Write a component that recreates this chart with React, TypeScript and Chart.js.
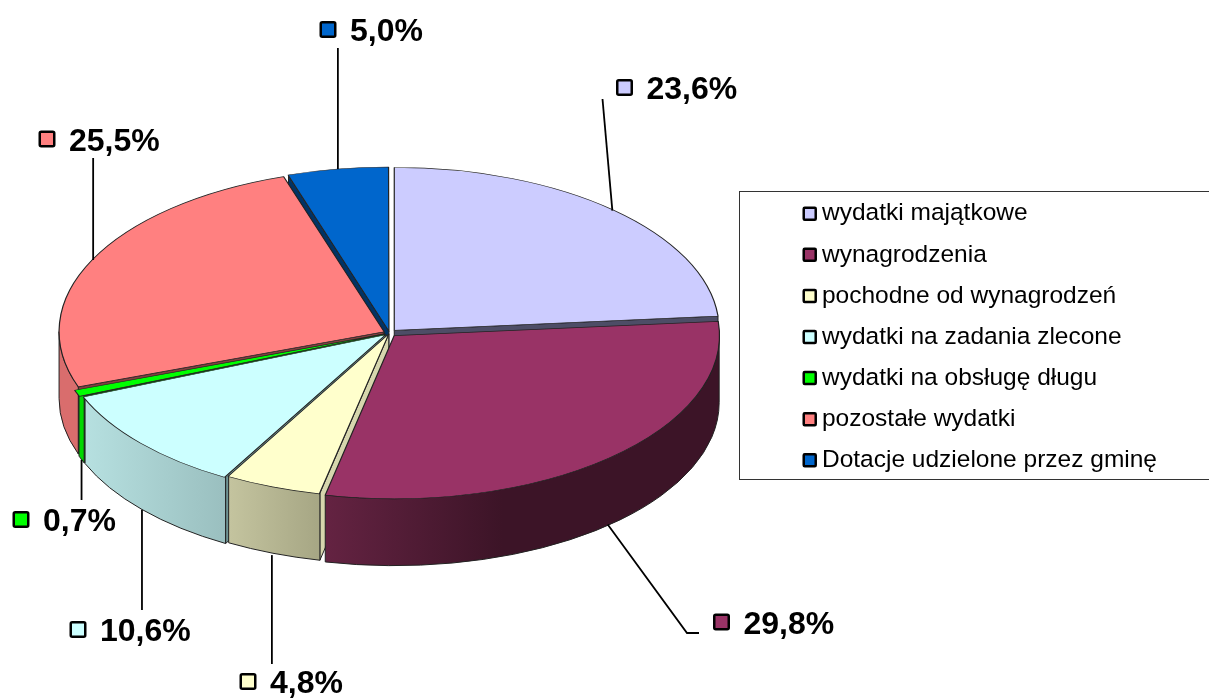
import React, { useEffect, useRef } from "react";
import { Chart, registerables } from "chart.js";

Chart.register(...registerables);

const categories = [
  "wydatki majątkowe",
  "wynagrodzenia",
  "pochodne od wynagrodzeń",
  "wydatki na zadania zlecone",
  "wydatki na obsługę długu",
  "pozostałe wydatki",
  "Dotacje udzielone przez gminę",
];
const shares = [23.6, 29.8, 4.8, 10.6, 0.7, 25.5, 5.0];
const valueLabels = ["23,6%", "29,8%", "4,8%", "10,6%", "0,7%", "25,5%", "5,0%"];
const topColors = ["#CCCCFF", "#993366", "#FFFFCC", "#CCFFFF", "#00FF00", "#FF8080", "#0066CC"];
const wallLeft = ["#7a7a99", "#642342", "#c4c49f", "#b6e0e0", "#00d800", "#d96d6d", "#003d7a"];
const wallRight = ["#7a7a99", "#3c1427", "#a6a684", "#9abfbf", "#00d800", "#d96d6d", "#003d7a"];
const faceColors = ["#4d4d66", "#4d1a33", "#d6d6ad", "#6f9494", "#009000", "#803f3f", "#003366"];
const paintOrder = [0, 6, 5, 4, 3, 2, 1];
// Chart.js translates an arc by offset / 4
const explode = [28, 28, 8, 20, 20, 24, 14];

// Layout of the drawing (not data)
const CX = 389.5;
const CY = 333;
const RX = 325;
const RY = 163;
const DEPTH = 67;
// leader line waypoints (null x = straight up or down) and label block position for each slice
const leaders: (number | null)[][][] = [
  [[602.5, 99]],
  [[687, 633], [699, 633]],
  [[null, 664]],
  [[null, 610]],
  [[null, 500]],
  [[null, 158]],
  [[null, 48]],
];
const labelBoxes: number[][] = [
  [624.5, 87.5],
  [721.5, 622],
  [248, 681.5],
  [78, 629.5],
  [21, 519.5],
  [47, 139],
  [328, 29.5],
];

function slicePath(ctx: CanvasRenderingContext2D, ax: number, ay: number, a0: number, a1: number) {
  const lo = Math.max(a0, 0);
  const hi = Math.min(a1, Math.PI);
  ctx.beginPath();
  ctx.ellipse(ax, ay, RX, RY, 0, lo, hi, false);
  ctx.ellipse(ax, ay + DEPTH, RX, RY, 0, hi, lo, true);
  ctx.closePath();
}

const pie3d = {
  id: "pie3d",
  beforeDatasetDraw(chart: any) {
    const ctx: CanvasRenderingContext2D = chart.ctx;
    const arcs = chart.getDatasetMeta(0).data;
    for (const i of paintOrder) {
      const arc = arcs[i];
      const R = arc.outerRadius;
      const sx = RX / R;
      const sy = RY / R;
      const mid = (arc.startAngle + arc.endAngle) / 2;
      const off = (arc.options.offset || 0) / 4;
      const ax = CX + Math.cos(mid) * off * sx;
      const ay = CY + Math.sin(mid) * off * sy;
      const a0 = arc.startAngle;
      const a1 = arc.endAngle;
      ctx.save();
      ctx.strokeStyle = "#222";
      ctx.lineWidth = 1;
      ctx.lineJoin = "round";
      const faces: number[] = [];
      if (Math.cos(a0) < 0) faces.push(a0);
      if (Math.cos(a1) > 0) faces.push(a1);
      for (const t of faces) {
        const ex = ax + RX * Math.cos(t);
        const ey = ay + RY * Math.sin(t);
        ctx.beginPath();
        ctx.moveTo(ax, ay);
        ctx.lineTo(ex, ey);
        ctx.lineTo(ex, ey + DEPTH);
        ctx.lineTo(ax, ay + DEPTH);
        ctx.closePath();
        ctx.fillStyle = faceColors[i];
        ctx.fill();
        ctx.stroke();
      }
      if (a1 > 0 && a0 < Math.PI) {
        const lo = Math.max(a0, 0);
        const hi = Math.min(a1, Math.PI);
        const xs = [ax + RX * Math.cos(lo), ax + RX * Math.cos(hi)];
        const g = ctx.createLinearGradient(Math.min(...xs), 0, Math.max(...xs), 0);
        g.addColorStop(0, wallLeft[i]);
        g.addColorStop(i === 1 ? 0.45 : 1, wallRight[i]);
        g.addColorStop(1, wallRight[i]);
        slicePath(ctx, ax, ay, a0, a1);
        ctx.fillStyle = g;
        ctx.fill();
        ctx.stroke();
      }
      ctx.translate(CX, CY);
      ctx.scale(sx, sy);
      ctx.translate(-arc.x, -arc.y);
      arc.draw(ctx);
      ctx.restore();
    }
    return false;
  },
  afterDraw(chart: any) {
    const ctx: CanvasRenderingContext2D = chart.ctx;
    const arcs = chart.getDatasetMeta(0).data;
    ctx.save();
    // leader lines and value labels
    arcs.forEach((arc: any, i: number) => {
      const mid = (arc.startAngle + arc.endAngle) / 2;
      const s = Math.sin(mid);
      const x0 = CX + Math.cos(mid) * (RX + 5);
      const y0 = CY + s * (RY + 3) + (s > 0.2 ? DEPTH : 0);
      ctx.beginPath();
      ctx.moveTo(x0, y0);
      for (const p of leaders[i]) ctx.lineTo(p[0] ?? x0, p[1] as number);
      ctx.strokeStyle = "#000";
      ctx.lineWidth = 1.8;
      ctx.stroke();
      const [mx, my] = labelBoxes[i];
      ctx.fillStyle = topColors[i];
      ctx.beginPath();
      ctx.roundRect(mx - 7.25, my - 7.25, 14.5, 14.5, 1.5);
      ctx.fill();
      ctx.strokeStyle = "#000";
      ctx.lineWidth = 2.5;
      ctx.stroke();
      ctx.fillStyle = "#000";
      ctx.font = "bold 32px 'Liberation Sans'";
      ctx.textBaseline = "middle";
      ctx.textAlign = "left";
      ctx.fillText(valueLabels[i], mx + 22, my + 3);
    });
    // legend frame and markers
    ctx.strokeStyle = "#333";
    ctx.lineWidth = 1;
    ctx.strokeRect(739.5, 191.5, 480, 288);
    chart.legend.legendHitBoxes.forEach((b: any, i: number) => {
      const yc = b.top + b.height / 2;
      ctx.fillStyle = topColors[i];
      ctx.beginPath();
      ctx.roundRect(b.left, yc - 6, 12, 12, 1);
      ctx.fill();
      ctx.strokeStyle = "#000";
      ctx.lineWidth = 2.5;
      ctx.stroke();
    });
    ctx.restore();
  },
};

export default function App() {
  const ref = useRef<HTMLCanvasElement>(null);
  useEffect(() => {
    const chart = new Chart(ref.current!, {
      type: "pie",
      data: {
        labels: categories,
        datasets: [
          {
            data: shares,
            backgroundColor: topColors,
            borderColor: "#222",
            borderWidth: 1.2,
            borderJoinStyle: "round",
            offset: explode,
          },
        ],
      },
      options: {
        responsive: false,
        animation: false,
        layout: { padding: { top: 0, bottom: 26, left: 0, right: 42 } },
        plugins: {
          tooltip: { enabled: false },
          legend: {
            position: "right",
            labels: {
              boxWidth: 6,
              boxHeight: 6,
              padding: 16.6,
              color: "#000",
              font: { family: "'Liberation Sans'", size: 24.5 },
            },
          },
        },
      },
      plugins: [pie3d],
    } as any);
    return () => chart.destroy();
  }, []);
  return (
    <canvas
      ref={ref}
      width={1209}
      height={700}
      style={{ position: "fixed", left: 0, top: 0, display: "block" }}
    />
  );
}
